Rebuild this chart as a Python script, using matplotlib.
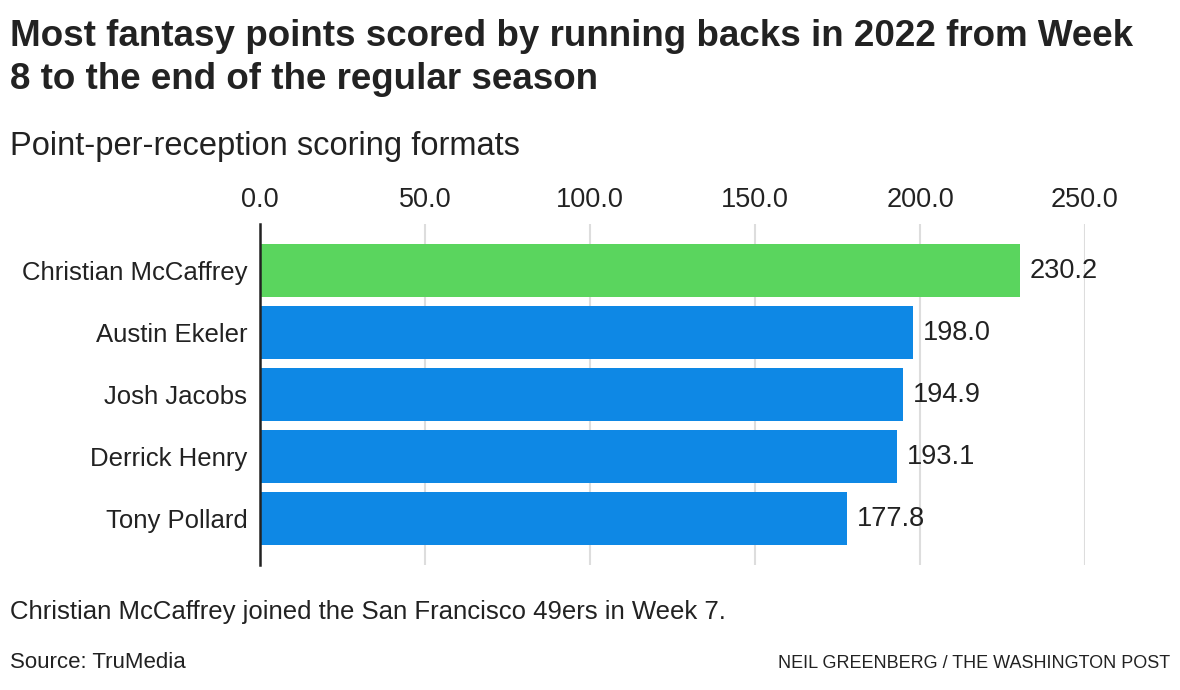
import matplotlib.pyplot as plt

# data
players = ['Christian McCaffrey', 'Austin Ekeler', 'Josh Jacobs', 'Derrick Henry', 'Tony Pollard']
points = [230.2, 198.0, 194.9, 193.1, 177.8]
bar_colors = ['#5ad55e', '#0e88e5', '#0e88e5', '#0e88e5', '#0e88e5']
ticks = [0, 50, 100, 150, 200, 250]

txt = '#222222'
plt.rcParams['font.family'] = ['Liberation Sans', 'DejaVu Sans']

fig = plt.figure(figsize=(11.8, 6.9), dpi=100)
W, H = 1180, 690
ax = fig.add_axes([260 / W, 1 - 565 / H, (1085 - 260) / W, (565 - 224) / H])

ypos = range(len(players))
ax.barh(ypos, points, height=0.855, color=bar_colors, zorder=2)
for y, v in zip(ypos, points):
    ax.text(v + 3, y, f'{v:.1f}', va='center', ha='left', fontsize=19.5, color=txt, clip_on=False)

ax.set_xlim(0, 250)
ax.set_ylim(len(players) - 0.25, -0.75)
ax.set_yticks(list(ypos))
ax.set_yticklabels(players, fontsize=18.5, color=txt)
ax.set_xticks(ticks)
ax.set_xticklabels([f'{t:.1f}' for t in ticks], fontsize=19.5, color=txt)
ax.xaxis.tick_top()
ax.tick_params(axis='both', length=0)
ax.tick_params(axis='x', pad=8)
ax.tick_params(axis='y', pad=9)
ax.grid(axis='x', color='#dddddd', linewidth=1.5, zorder=0)
for s in ['top', 'right', 'bottom']:
    ax.spines[s].set_visible(False)
ax.spines['left'].set_color(txt)
ax.spines['left'].set_linewidth(1.8)
ax.spines['left'].set_zorder(3)

fig.text(10 / W, 1 - 19 / H, 'Most fantasy points scored by running backs in 2022 from Week\n8 to the end of the regular season',
         fontsize=26.5, fontweight='bold', color=txt, va='top', linespacing=1.3)
fig.text(10 / W, 1 - 147 / H, 'Point-per-reception scoring formats', fontsize=23.5, color=txt, va='center')
fig.text(10 / W, 1 - 612 / H, 'Christian McCaffrey joined the San Francisco 49ers in Week 7.', fontsize=18.5, color=txt, va='center')
fig.text(10 / W, 1 - 663 / H, 'Source: TruMedia', fontsize=16, color=txt, va='center')
fig.text(1170 / W, 1 - 663 / H, 'NEIL GREENBERG / THE WASHINGTON POST', fontsize=13, color=txt, va='center', ha='right')

fig.savefig('out.png', dpi=100)
